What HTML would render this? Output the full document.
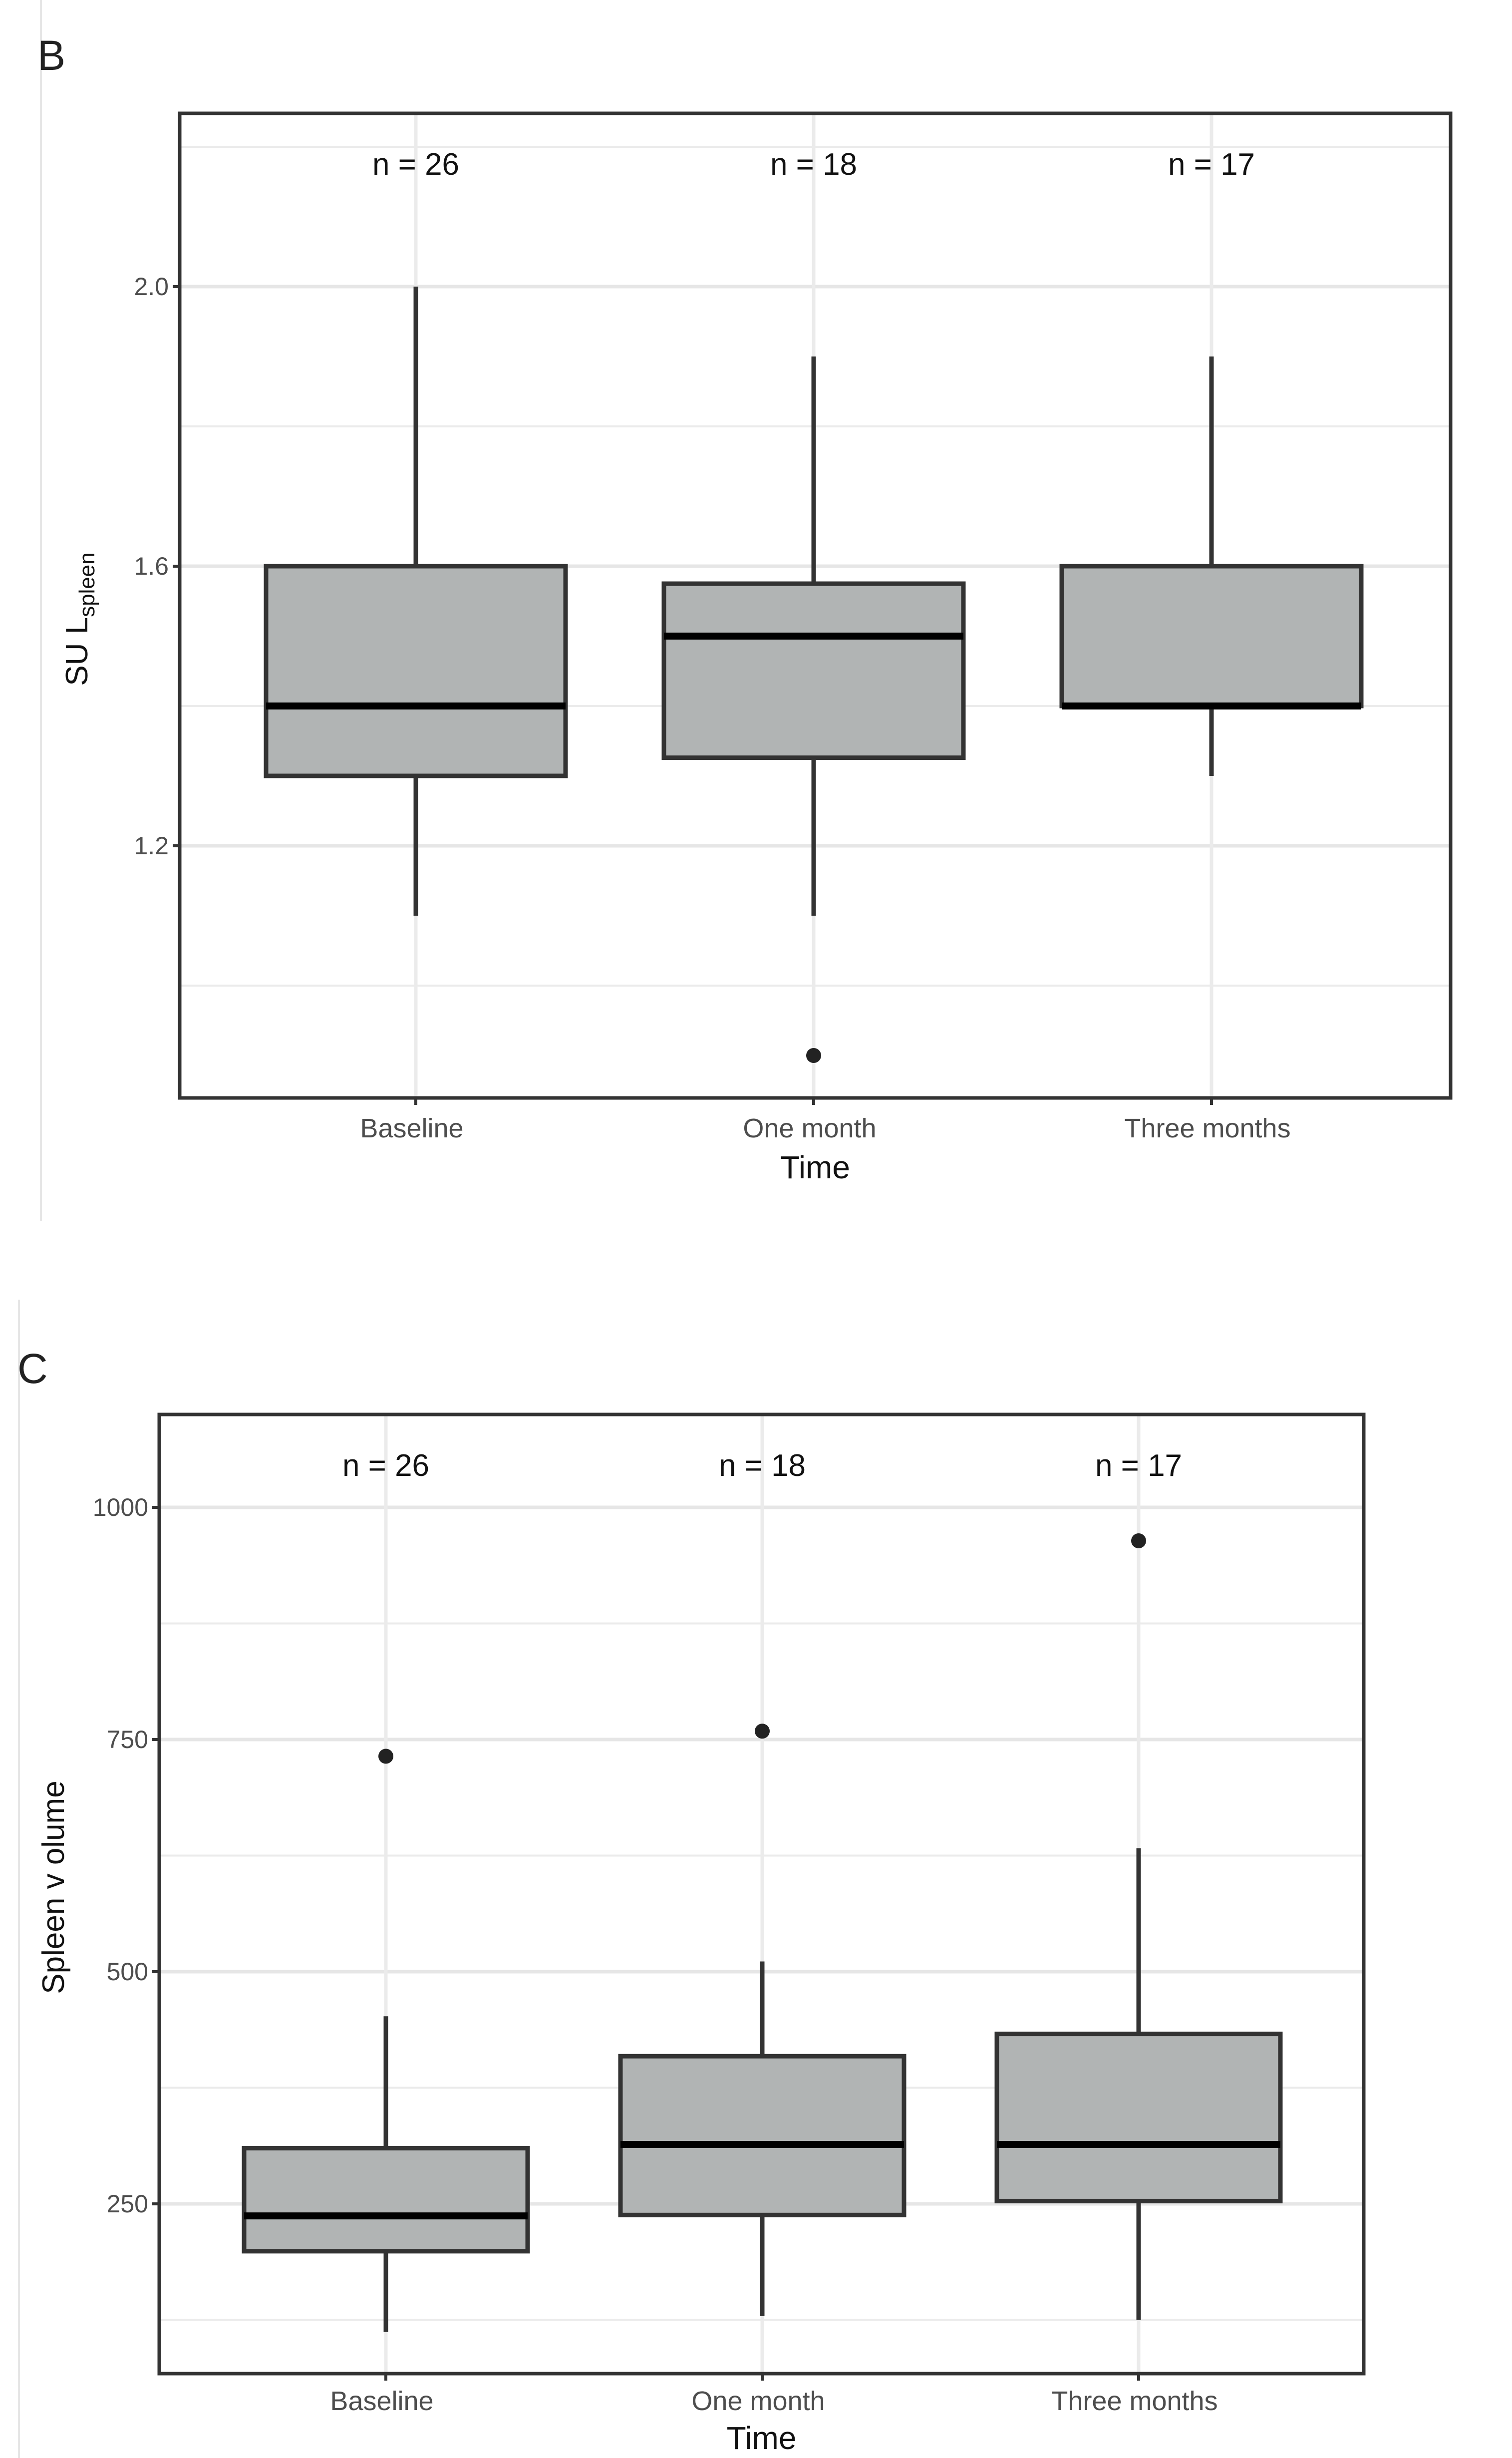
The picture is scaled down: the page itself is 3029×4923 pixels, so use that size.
<!DOCTYPE html>
<html><head><meta charset="utf-8">
<style>
html,body{margin:0;padding:0;background:#fff;}
svg{display:block;font-family:"Liberation Sans Narrow","Liberation Sans",sans-serif;}
</style></head>
<body>
<svg id="fig" width="3029" height="4923" viewBox="0 0 3029 4923" xmlns="http://www.w3.org/2000/svg">
<rect x="0" y="0" width="3029" height="4923" fill="#fff"/>
<line x1="82" y1="0" x2="82" y2="2445" stroke="#e6e6e6" stroke-width="4"/>
<line x1="38" y1="2603" x2="38" y2="4923" stroke="#e6e6e6" stroke-width="4"/>
<text x="75" y="140" font-size="84" fill="#222" font-family="Liberation Sans, sans-serif">B</text>
<text x="35" y="2770" font-size="84" fill="#222" font-family="Liberation Sans, sans-serif">C</text>
<g id="chartB"></g>
<g id="chartC"></g>
</svg>
<script>
const categories = ["Baseline", "One month", "Three months"];
const countsB = [26, 18, 17];
const whiskLowB = [1.1, 1.1, 1.3];
const q1B = [1.3, 1.326, 1.4];
const medianB = [1.4, 1.5, 1.4];
const q3B = [1.6, 1.575, 1.6];
const whiskHighB = [2.0, 1.9, 1.9];
const outliersB = [[], [0.9], []];
const majorTicksB = [1.2, 1.6, 2.0];
const tickLabelsB = ["1.2", "1.6", "2.0"];
const minorTicksB = [1.0, 1.4, 1.8, 2.2];

const countsC = [26, 18, 17];
const whiskLowC = [112, 129, 125];
const q1C = [199, 238, 253];
const medianC = [237, 314, 314];
const q3C = [310, 409, 433];
const whiskHighC = [452, 511, 633];
const outliersC = [[732], [759], [964]];
const majorTicksC = [250, 500, 750, 1000];
const tickLabelsC = ["250", "500", "750", "1000"];
const minorTicksC = [125, 375, 625, 875];

const NS = "http://www.w3.org/2000/svg";
function mk(parent, tag, attrs, text) {
  const e = document.createElementNS(NS, tag);
  for (const k in attrs) e.setAttribute(k, attrs[k]);
  if (text !== undefined) e.textContent = text;
  parent.appendChild(e);
  return e;
}

function drawChart(g, cfg, d) {
  const L = cfg.left, T = cfg.top, R = cfg.right, B = cfg.bottom;
  const y = v => cfg.y0px + (v - cfg.y0) * (cfg.y1px - cfg.y0px) / (cfg.y1 - cfg.y0);
  const x = i => cfg.x0 + i * cfg.step;
  // grid
  d.minor.forEach(v => {
    const yy = y(v); if (yy < T || yy > B) return;
    const l = mk(g, "line", {x1: L, x2: R, y1: yy, y2: yy, stroke: "#ebebeb", "stroke-width": 4});
    
    
  });
  d.major.forEach((v, i) => {
    const yy = y(v);
    const l = mk(g, "line", {x1: L, x2: R, y1: yy, y2: yy, stroke: "#e6e6e6", "stroke-width": 7});
    
    
    const tk = mk(g, "line", {x1: L - 14, x2: L, y1: yy, y2: yy, stroke: "#333", "stroke-width": 6});
    
    
    const t = mk(g, "text", {x: L - 22, y: yy + 17, "text-anchor": "end", "font-size": 50, fill: "#4d4d4d"}, d.tickLabels[i]);
    
    
  });
  categories.forEach((c, i) => {
    const xx = x(i);
    const l = mk(g, "line", {x1: xx, x2: xx, y1: T, y2: B, stroke: "#ebebeb", "stroke-width": 7});
    
    
  });
  // boxes
  categories.forEach((c, i) => {
    const xx = x(i), hw = cfg.hw;
    const wl = mk(g, "line", {x1: xx, x2: xx, y1: y(d.wlo[i]), y2: y(d.q1[i]), stroke: "#333", "stroke-width": 9});
    
    
    const wh = mk(g, "line", {x1: xx, x2: xx, y1: y(d.whi[i]), y2: y(d.q3[i]), stroke: "#333", "stroke-width": 9});
    
    
    const bx = mk(g, "rect", {x: xx - hw, y: y(d.q3[i]), width: 2 * hw, height: y(d.q1[i]) - y(d.q3[i]), fill: "#b1b4b4", stroke: "#333", "stroke-width": 9});
    
    
    const md = mk(g, "line", {x1: xx - hw, x2: xx + hw, y1: y(d.med[i]), y2: y(d.med[i]), stroke: "#000", "stroke-width": 14});
    
    
    d.out[i].forEach(v => {
      const p = mk(g, "circle", {cx: xx, cy: y(v), r: 15, fill: "#222"});
      
      
    });
    const n = mk(g, "text", {x: xx, y: cfg.nY, "text-anchor": "middle", "font-size": 62, fill: "#111"}, "n =  " + d.counts[i]);
    
    
    const tk = mk(g, "line", {x1: xx, x2: xx, y1: B, y2: B + 14, stroke: "#333", "stroke-width": 6});
    
    
    const tl = mk(g, "text", {x: xx - 8, y: cfg.tickY, "text-anchor": "middle", "font-size": 54, fill: "#4d4d4d"}, c);
    
    
  });
  const fr = mk(g, "rect", {x: L, y: T, width: R - L, height: B - T, fill: "none", stroke: "#333", "stroke-width": 7});
  
  
  const xt = mk(g, "text", {x: (L + R) / 2, y: cfg.titleY, "text-anchor": "middle", "font-size": 64, fill: "#111"}, "Time");
  
  
}

const gB = document.getElementById("chartB");
drawChart(gB, {left: 360, top: 227, right: 2906, bottom: 2199, y0: 1.2, y0px: 1694, y1: 2.0, y1px: 574,
  x0: 833, step: 797, hw: 300, nY: 350, tickY: 2278, titleY: 2360},
  {minor: minorTicksB, major: majorTicksB, tickLabels: tickLabelsB, wlo: whiskLowB, q1: q1B, med: medianB, q3: q3B, whi: whiskHighB, out: outliersB, counts: countsB});
const yb = mk(gB, "text", {transform: "translate(175,1240) rotate(-90)", "text-anchor": "middle", "font-size": 62, fill: "#111"});


mk(yb, "tspan", {}, "SU L");
mk(yb, "tspan", {"font-size": 44, dy: 14}, "spleen");

const gC = document.getElementById("chartC");
drawChart(gC, {left: 319, top: 2833, right: 2732, bottom: 4754, y0: 250, y0px: 4414, y1: 1000, y1px: 3019,
  x0: 773, step: 754, hw: 284, nY: 2956, tickY: 4827, titleY: 4905},
  {minor: minorTicksC, major: majorTicksC, tickLabels: tickLabelsC, wlo: whiskLowC, q1: q1C, med: medianC, q3: q3C, whi: whiskHighC, out: outliersC, counts: countsC});
const yc = mk(gC, "text", {transform: "translate(128,3780) rotate(-90)", "text-anchor": "middle", "font-size": 62, fill: "#111"}, "Spleen v olume");


</script>
</body></html>
